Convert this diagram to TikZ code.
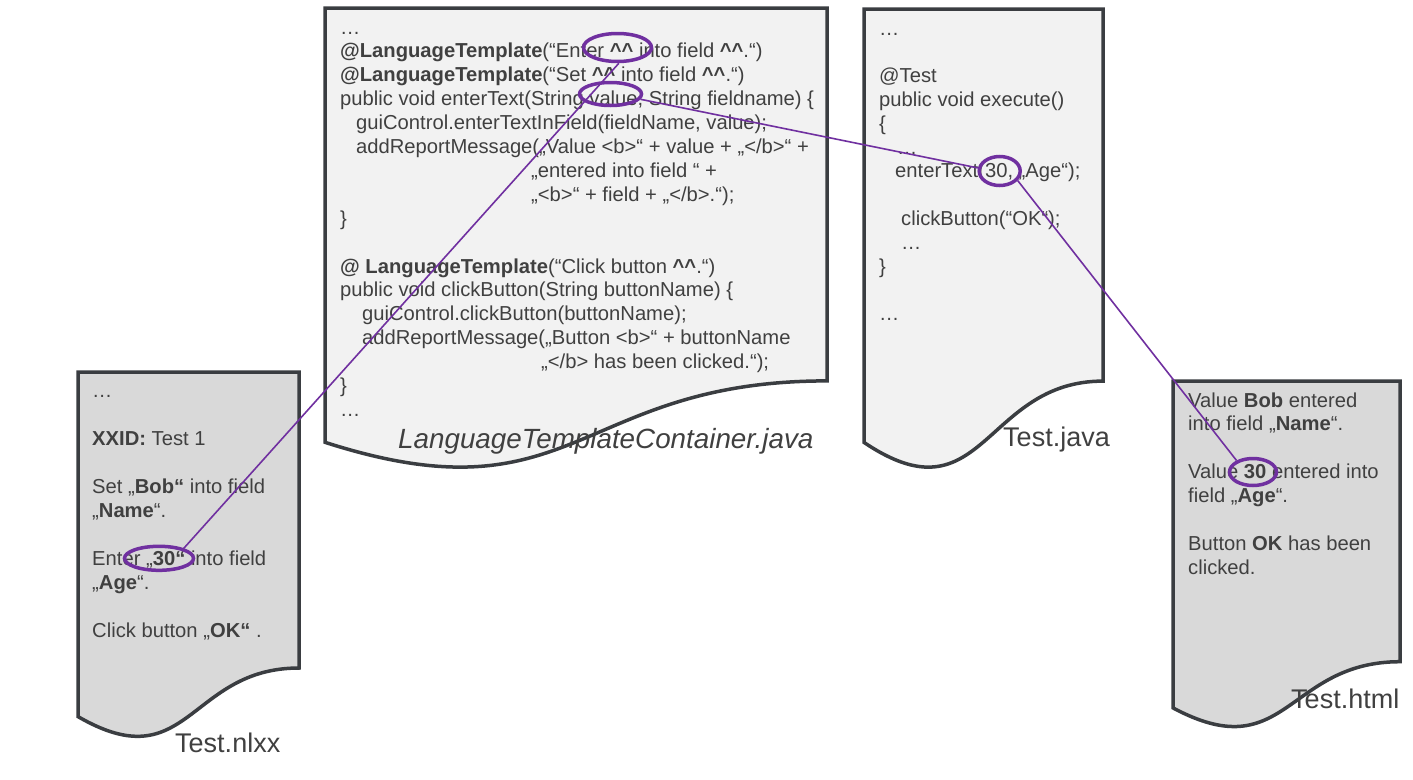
\documentclass[tikz,border=0pt]{standalone}
\usepackage{fontspec}
\setmainfont{Liberation Sans}
\usetikzlibrary{shapes.geometric}
\definecolor{edge}{HTML}{3A3D41}
\definecolor{lightfill}{HTML}{F2F2F2}
\definecolor{darkfill}{HTML}{D9D9D9}
\definecolor{txtc}{HTML}{404040}
\definecolor{purp}{HTML}{7030A0}
\newcommand\mycirc{\textasciicircum}
\begin{document}
\begin{tikzpicture}[x=1pt,y=-1pt,
  doc/.style={draw=edge, line width=3.5pt},
  txt/.style={anchor=base west, inner sep=0pt, font=\fontsize{20.2}{24}\selectfont, text=txtc},
  lbl/.style={anchor=base west, inner sep=0pt, font=\fontsize{27}{32}\selectfont, text=txtc},
  ring/.style={ellipse, draw=purp, line width=3.5pt, inner sep=0pt},
  link/.style={draw=purp, line width=1.6pt}]
\useasboundingbox (0,0) rectangle (1413,779);
\fill[white] (0,0) rectangle (1413,779);

% documents
\path[doc, fill=lightfill] (325,8) -- (827,8) -- (827,380.9) .. controls (576,380.9) and (576,523) .. (325,442.3) -- cycle;
\path[doc, fill=lightfill] (864,9) -- (1103,9) -- (1103,381.1) .. controls (983.5,381.1) and (983.5,522.9) .. (864,442.4) -- cycle;
\path[doc, fill=darkfill] (78,372) -- (299,372) -- (299,668) .. controls (188.5,668) and (188.5,780.7) .. (78,716.6) -- cycle;
\path[doc, fill=darkfill] (1173,381) -- (1400,381) -- (1400,661.7) .. controls (1286.5,661.7) and (1286.5,768.6) .. (1173,707.9) -- cycle;

% LanguageTemplateContainer.java
\node[txt] (a1) at (340,34) {…};
\node[txt] (a2) at (340,57.9) {\textbf{@LanguageTemplate}(“Enter \textbf{\mycirc\mycirc} into field \textbf{\mycirc\mycirc}.“)};
\node[txt] (a3) at (340,81.8) {\textbf{@LanguageTemplate}(“Set \textbf{\mycirc\mycirc} into field \textbf{\mycirc\mycirc}.“)};
\node[txt] (a4) at (340,105.7) {public void enterText(String value, String fieldname) \{};
\node[txt] (a5) at (356,129.6) {guiControl.enterTextInField(fieldName, value);};
\node[txt] (a6) at (356,153.5) {addReportMessage(„Value <b>“ + value + „</b>“ +};
\node[txt] (a7) at (531,177.4) {„entered into field “ +};
\node[txt] (a8) at (531,201.3) {„<b>“ + field + „</b>.“);};
\node[txt] (a9) at (340,225.2) {\}};
\node[txt] (a11) at (340,273) {\textbf{@ LanguageTemplate}(“Click button \textbf{\mycirc\mycirc}.“)};
\node[txt] (a12) at (340,296.9) {public void clickButton(String buttonName) \{};
\node[txt] (a13) at (362,320.8) {guiControl.clickButton(buttonName);};
\node[txt] (a14) at (362,344.7) {addReportMessage(„Button <b>“ + buttonName};
\node[txt] (a15) at (541,368.6) {„</b> has been clicked.“);};
\node[txt] (a16) at (340,392.5) {\}};
\node[txt] (a17) at (340,416.4) {…};

% Test.java
\node[txt] (b1) at (879,35) {…};
\node[txt] (b3) at (879,82.6) {@Test};
\node[txt] (b4) at (879,106.4) {public void execute()};
\node[txt] (b5) at (879,130.2) {\{};
\node[txt] (b6) at (897,154) {…};
\node[txt] (b7) at (895,177.8) {enterText(30, „Age“);};
\node[txt] (b9) at (901,225.4) {clickButton(“OK“);};
\node[txt] (b10) at (901,249.2) {…};
\node[txt] (b11) at (879,273) {\}};
\node[txt] (b13) at (879,320.6) {…};

% Test.nlxx
\node[txt] (c1) at (92,397) {…};
\node[txt] (c3) at (92,445) {\textbf{XXID:} Test 1};
\node[txt] (c5) at (92,493) {Set „\textbf{Bob“} into field};
\node[txt] (c6) at (92,517) {„\textbf{Name}“.};
\node[txt] (c8) at (92,565) {Enter „\textbf{30“} into field};
\node[txt] (c9) at (92,589) {„\textbf{Age}“.};
\node[txt] (c11) at (92,637) {Click button „\textbf{OK“} .};

% Test.html
\node[txt] (d1) at (1188,407) {Value \textbf{Bob} entered};
\node[txt] (d2) at (1188,430.9) {into field „\textbf{Name}“.};
\node[txt] (d4) at (1188,478.7) {Value \textbf{30} entered into};
\node[txt] (d5) at (1188,502.6) {field „\textbf{Age}“.};
\node[txt] (d7) at (1188,550.4) {Button \textbf{OK} has been};
\node[txt] (d8) at (1188,574.3) {clicked.};

% labels
\node[lbl, font=\fontsize{27.8}{32}\selectfont\itshape] (la) at (398,448) {LanguageTemplateContainer.java};
\node[lbl] (lb) at (1003,446) {Test.java};
\node[lbl] (lc) at (175,752) {Test.nlxx};
\node[lbl] (ld) at (1291,708) {Test.html};

% highlights
\node[ring, minimum width=68pt, minimum height=28pt] (e1) at (617.5,47.5) {};
\node[ring, minimum width=62pt, minimum height=23pt] (e2) at (610.5,94) {};
\node[ring, minimum width=41pt, minimum height=29pt] (e3) at (999.7,171) {};
\node[ring, minimum width=69pt, minimum height=24pt] (e4) at (159,558.3) {};
\node[ring, minimum width=47pt, minimum height=27pt] (e5) at (1253,472) {};

% connectors
\draw[link] (e1.-85) -- (e4.22);
\draw[link] (e2.-10) -- (e3.172);
\draw[link] (e3.-28) -- (e5.145);
\end{tikzpicture}
\end{document}
